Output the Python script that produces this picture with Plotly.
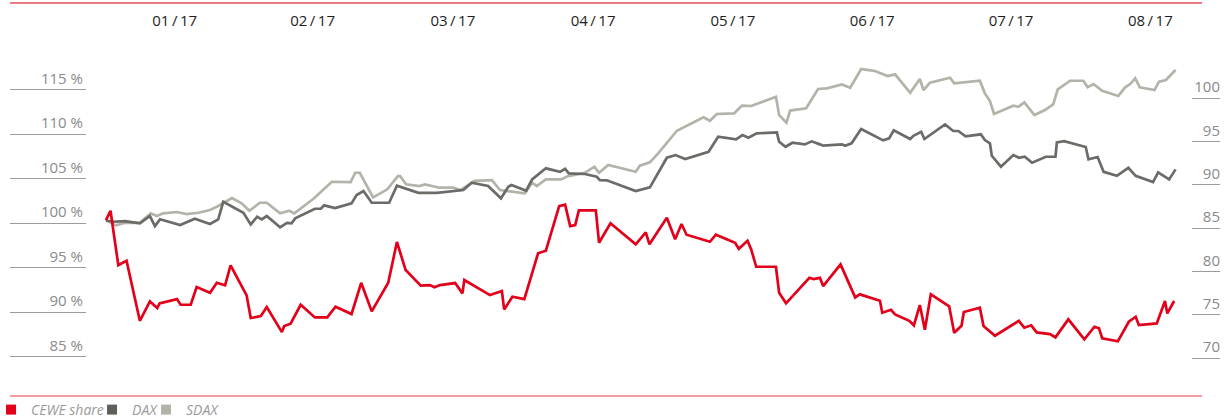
import plotly.graph_objects as go

# ---- data (x = days since 1 Jan 2017, y = index in % of start value) ----
month_ticks = [15.2, 45.3, 75.9, 106.5, 137.0, 167.4, 197.7, 228.1]
month_labels = ["01\u2009/\u200917", "02\u2009/\u200917", "03\u2009/\u200917", "04\u2009/\u200917",
                "05\u2009/\u200917", "06\u2009/\u200917", "07\u2009/\u200917", "08\u2009/\u200917"]

left_ticks = [85, 90, 95, 100, 105, 110, 115]
left_labels = ["85 %", "90 %", "95 %", "100 %", "105 %", "110 %", "115 %"]
right_ticks = [70, 75, 80, 85, 90, 95, 100]
right_labels = ["70", "75", "80", "85", "90", "95", "100"]

cewe_day = [0.2, 1.2, 2.9, 4.7, 7.6, 9.8, 11.4, 11.9, 15.7, 16.5, 18.7, 20.0, 22.9, 24.4, 26.2,
            27.4, 30.9, 31.8, 34.0, 35.3, 38.6, 39.1, 40.5, 42.7, 45.8, 48.5, 50.3, 53.8, 55.9,
            58.2, 61.8, 63.7, 65.6, 68.9, 70.9, 71.9, 73.1, 76.4, 78.0, 78.4, 84.0, 86.6, 87.1,
            88.9, 91.5, 94.5, 96.2, 99.1, 100.4, 101.5, 102.6, 103.4, 107.1, 107.8, 110.3, 115.8,
            118.0, 118.8, 122.6, 124.4, 125.8, 126.9, 132.0, 133.3, 137.5, 138.3, 140.2, 141.0,
            142.1, 146.4, 147.1, 148.6, 153.7, 154.6, 156.0, 156.7, 160.5, 163.7, 164.7, 169.1,
            169.6, 171.5, 172.4, 175.5, 176.5, 177.8, 178.9, 180.2, 184.2, 185.3, 186.9, 187.4,
            190.9, 191.7, 194.2, 199.4, 200.6, 202.1, 203.3, 206.2, 207.4, 210.2, 213.7, 215.9,
            216.9, 217.6, 221.0, 223.4, 224.9, 225.6, 229.5, 231.3, 231.8, 233.3]
cewe_pct = [100.34, 101.38, 95.28, 95.76, 89.02, 91.20, 90.45, 90.98, 91.46, 90.82, 90.82, 92.81,
            92.17, 93.29, 93.00, 95.25, 91.88, 89.33, 89.55, 90.56, 87.75, 88.43, 88.69, 90.82,
            89.40, 89.40, 90.60, 89.78, 93.29, 90.08, 93.29, 97.87, 94.72, 92.96, 93.03, 92.78,
            93.03, 93.26, 92.10, 93.60, 91.91, 92.36, 90.30, 91.72, 91.46, 96.60, 96.89, 101.91,
            102.06, 99.66, 99.78, 101.43, 101.43, 97.79, 99.97, 97.61, 98.96, 97.61, 100.60,
            98.17, 99.89, 98.69, 97.90, 98.69, 97.79, 97.11, 98.01, 97.04, 95.09, 95.09, 92.17,
            90.98, 93.85, 93.71, 93.85, 92.92, 95.36, 91.65, 91.99, 91.27, 89.92, 90.26, 89.74,
            89.02, 88.51, 90.79, 88.01, 91.99, 90.64, 87.67, 88.46, 90.00, 90.48, 88.43, 87.34,
            89.02, 88.24, 88.51, 87.72, 87.53, 87.16, 89.18, 86.93, 88.35, 88.17, 87.04, 86.71,
            88.91, 89.47, 88.54, 88.73, 91.24, 89.85, 91.24]

dax_day = [0.2, 2.4, 4.4, 7.6, 9.8, 10.9, 12.0, 16.4, 19.6, 22.9, 24.7, 25.8, 30.2, 31.8, 33.2,
           34.2, 35.3, 38.2, 39.7, 40.7, 41.5, 45.8, 47.1, 47.8, 50.2, 53.8, 54.9, 56.4, 58.2,
           62.0, 63.7, 68.4, 72.4, 77.5, 78.2, 80.0, 83.6, 86.4, 88.0, 88.7, 91.9, 93.2, 96.2,
           99.3, 100.4, 101.2, 104.7, 107.3, 108.0, 109.5, 115.8, 118.9, 122.6, 124.5, 126.6,
           131.7, 133.8, 137.7, 139.1, 140.4, 142.2, 146.6, 147.1, 148.5, 150.0, 152.7, 154.2,
           156.0, 156.7, 160.8, 161.5, 162.9, 165.0, 169.8, 171.1, 172.1, 175.7, 176.4, 178.1,
           178.8, 183.3, 185.1, 186.2, 187.8, 191.1, 192.0, 193.1, 193.5, 195.5, 198.2, 199.4,
           200.7, 202.3, 205.3, 207.4, 207.7, 209.3, 214.0, 214.6, 216.6, 217.9, 220.8, 223.3,
           224.9, 228.7, 229.8, 232.2, 233.6]
dax_pct = [100.26, 100.15, 100.22, 99.97, 100.79, 99.66, 100.42, 99.78, 100.48, 99.89, 100.42,
           102.39, 101.16, 99.85, 100.71, 100.42, 100.79, 99.52, 100.03, 99.97, 100.53, 101.61,
           101.61, 101.99, 101.69, 102.21, 103.15, 103.60, 102.28, 102.28, 104.19, 103.40, 103.40,
           103.60, 103.71, 104.53, 104.16, 102.78, 104.08, 104.27, 103.63, 104.91, 106.15, 105.76,
           106.10, 105.58, 105.51, 105.20, 104.83, 104.80, 103.60, 104.01, 107.34, 107.64, 107.19,
           108.01, 109.70, 109.40, 109.89, 109.58, 110.08, 110.19, 109.13, 108.57, 109.02, 108.84,
           109.18, 108.84, 108.69, 108.84, 108.69, 108.96, 110.56, 109.29, 109.52, 110.42, 109.44,
           109.81, 110.26, 109.44, 111.09, 110.34, 110.34, 109.74, 109.97, 109.33, 108.96, 107.56,
           106.33, 107.64, 107.34, 107.45, 106.78, 107.45, 107.45, 109.07, 109.21, 108.54, 107.16,
           107.42, 105.76, 105.31, 106.21, 105.31, 104.61, 105.70, 104.91, 106.03]

sdax_day = [0.2, 2.4, 4.4, 7.6, 10.0, 11.3, 12.7, 15.7, 17.8, 20.4, 22.9, 24.4, 27.7, 29.8, 31.5,
            33.8, 35.3, 38.2, 40.2, 41.3, 45.5, 49.5, 53.6, 54.6, 55.6, 58.5, 61.6, 63.9, 64.4,
            65.7, 68.6, 69.8, 73.0, 76.0, 77.5, 80.7, 84.4, 86.2, 91.6, 93.2, 94.2, 96.2, 99.5,
            101.1, 104.7, 106.8, 107.8, 109.8, 115.8, 116.7, 118.9, 120.7, 124.8, 130.6, 132.0,
            133.5, 137.3, 139.0, 141.0, 146.4, 147.1, 148.7, 149.5, 153.0, 155.6, 157.5, 160.8,
            162.6, 165.0, 168.0, 170.8, 172.4, 175.7, 177.8, 178.6, 180.0, 184.4, 185.3, 190.9,
            192.0, 193.1, 194.0, 198.2, 199.3, 200.6, 202.8, 205.1, 206.9, 207.9, 210.6, 213.5,
            214.4, 215.7, 217.6, 221.1, 222.6, 223.7, 224.8, 225.8, 229.0, 230.0, 231.5, 233.6]
sdax_pct = [100.34, 99.74, 100.03, 100.03, 101.09, 100.79, 101.09, 101.24, 101.01, 101.16, 101.46,
            101.83, 102.81, 102.21, 101.38, 102.28, 102.28, 101.09, 101.38, 101.09, 102.73, 104.64,
            104.61, 105.65, 105.65, 102.89, 103.79, 105.28, 105.28, 104.35, 104.16, 104.35, 103.97,
            103.97, 103.71, 104.75, 104.83, 103.71, 103.34, 104.53, 104.16, 104.91, 104.91, 105.28,
            105.65, 106.33, 105.65, 106.52, 105.76, 106.44, 106.82, 107.83, 110.37, 111.88, 111.49,
            112.25, 112.33, 113.20, 113.15, 114.19, 112.13, 111.27, 112.64, 112.89, 115.06, 115.13,
            115.58, 115.20, 117.30, 117.08, 116.52, 116.71, 114.64, 116.18, 114.94, 115.76, 116.33,
            115.70, 115.99, 114.57, 113.71, 112.25, 113.18, 113.07, 113.56, 112.13, 112.70, 113.34,
            115.02, 115.99, 115.99, 115.25, 115.62, 114.87, 114.27, 115.25, 115.62, 116.26, 115.25,
            114.94, 115.88, 116.07, 117.19]

RED = "#e2001a"
DARK = "#6b6b68"
LIGHT = "#b3b3a9"
FONT = "Open Sans"
TICKGRAY = "#9c9c9c"

fig = go.Figure()
fig.add_trace(go.Scatter(x=sdax_day, y=sdax_pct, mode="lines", line=dict(color=LIGHT, width=2.7),
                         showlegend=False))
fig.add_trace(go.Scatter(x=dax_day, y=dax_pct, mode="lines", line=dict(color=DARK, width=2.7),
                         showlegend=False))
fig.add_trace(go.Scatter(x=cewe_day, y=cewe_pct, mode="lines", line=dict(color=RED, width=2.7),
                         showlegend=False))
# right axis carrier (no visible marks)
fig.add_trace(go.Scatter(x=[0], y=[85], yaxis="y2", mode="markers", marker=dict(opacity=0),
                         showlegend=False, hoverinfo="skip"))

# legend entries (square swatches)
for name, col, w in [("CEWE share", RED, 56), ("DAX", "#5f5f59", 9), ("SDAX", LIGHT, 40)]:
    fig.add_trace(go.Scatter(x=[None], y=[None], mode="markers", name=name, legendwidth=w,
                             marker=dict(symbol="square", size=10, color=col)))

fig.update_layout(
    width=1232, height=419,
    margin=dict(l=87, r=12, t=30, b=23, autoexpand=False),
    paper_bgcolor="white", plot_bgcolor="white",
    font=dict(family=FONT, size=15, color="#8a8a8a"),
    xaxis=dict(range=[-3.93, 243.3], side="top", tickvals=month_ticks, ticktext=month_labels,
               showgrid=False, zeroline=False, showline=False, ticks="", automargin=False,
               tickfont=dict(family=FONT, size=15, color="#1e1e1e")),
    yaxis=dict(range=[80.57, 121.69], tickvals=left_ticks, ticktext=left_labels,
               showgrid=False, zeroline=False, showline=False, automargin=False,
               ticks="outside", ticklen=76, tickwidth=1, tickcolor=TICKGRAY,
               ticklabelstandoff=-76, ticklabelshift=-11,
               tickfont=dict(family=FONT, size=15, color="#8a8a8a")),
    yaxis2=dict(range=[65.62, 107.85], overlaying="y", side="right", tickvals=right_ticks,
                ticktext=right_labels, showgrid=False, zeroline=False, showline=False,
                automargin=False, ticks="inside", ticklen=28, tickwidth=1, tickcolor=TICKGRAY,
                ticklabelposition="inside", ticklabelstandoff=-28, ticklabelshift=-11,
                tickfont=dict(family=FONT, size=15, color="#8a8a8a")),
    legend=dict(orientation="h", xref="paper", yref="container", x=-0.0847, y=0.0597,
                xanchor="left", yanchor="top", itemwidth=30,
                font=dict(family=FONT, size=14, color="#9a9a9a", style="italic"),
                bgcolor="rgba(0,0,0,0)"),
    shapes=[
        dict(type="line", xref="paper", yref="paper", x0=-0.0680, x1=0.9841,
             y0=1.0738, y1=1.0738, line=dict(color="#ec7a82", width=2)),
        dict(type="line", xref="paper", yref="paper", x0=-0.0680, x1=0.9841,
             y0=0, y1=0, line=dict(color="#ec7a82", width=1.5)),
    ],
)

fig.write_html("out.html", config={"displayModeBar": False},
               post_script="document.body.style.margin='0px';document.body.style.overflow='hidden';")
